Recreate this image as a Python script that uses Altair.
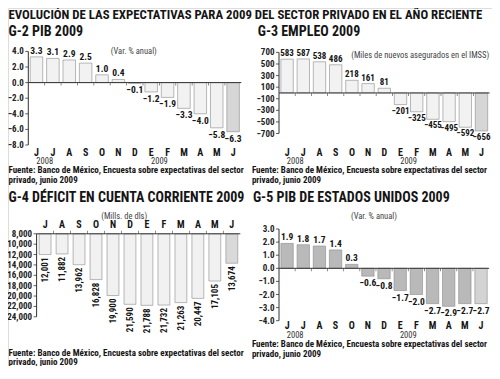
import altair as alt
import pandas as pd

FONT = "'Roboto Condensed', 'Open Sans Condensed', sans-serif"
INK = "#151515"
AX = "#333333"

TITLE = "EVOLUCIÓN DE LAS EXPECTATIVAS PARA 2009 DEL SECTOR PRIVADO EN EL AÑO RECIENTE"
SOURCE = ["Fuente: Banco de México, Encuesta sobre expectativas del sector", "privado, junio 2009"]

MONTHS13 = ["J", "J", "A", "S", "O", "N", "D", "E", "F", "M", "A", "M", "J"]
MONTHS12 = ["J", "A", "S", "O", "N", "D", "E", "F", "M", "A", "M", "J"]
YEARS = ["2008", "2009"]
YEAR_AT = [0, 7]  # year label centred between this month and the next

PIB_MX = [3.3, 3.1, 2.9, 2.5, 1.0, 0.4, -0.1, -1.2, -1.9, -3.3, -4.0, -5.8, -6.3]
EMPLEO = [583, 587, 538, 486, 218, 161, 81, -201, -325, -455, -495, -592, -656]
DEFICIT = [12001, 11882, 13962, 16828, 19900, 21590, 21788, 21732, 21263, 20447, 17105, 13674]
PIB_US = [1.9, 1.8, 1.7, 1.4, 0.3, -0.6, -0.8, -1.7, -2.0, -2.7, -2.9, -2.7, -2.7]

TICKS_MX = [4, 2, 0, -2, -4, -6, -8]
TICKS_EMP = [700, 500, 300, 100, -100, -300, -500, -700]
TICKS_DEF = [8000, 10000, 12000, 14000, 16000, 18000, 20000, 22000, 24000]
TICKS_US = [3, 2, 1, 0, -1, -2, -3, -4]

# ---- layout helpers (page layout of the original, scaled to the canvas) ----
W_CHART, H_CHART = 484, 358
KX, KY, Y0 = 0.968, 0.965, 3


def PX(x):
    return round(x * KX, 1)


def PY(y):
    return round((y - Y0) * KY, 1)


def text_at(txt, x, y, size, weight="bold", color=INK, align="left", baseline="middle"):
    return alt.Chart(pd.DataFrame({"k": [0]})).mark_text(
        text=txt, align=align, baseline=baseline, font=FONT, fontSize=size,
        fontWeight=weight, color=color, lineHeight=round(10 * KY, 1)
    ).encode(x=alt.value(PX(x)), y=alt.value(PY(y)))


def y_axis_layers(yscale, lo, hi, ticks, fmt, ax_x):
    ends = pd.DataFrame({"lo": [lo], "hi": [hi]})
    line = alt.Chart(ends).mark_rule(color=AX, strokeWidth=1).encode(
        x=alt.value(PX(ax_x)),
        y=alt.Y("lo:Q", scale=yscale, axis=None), y2="hi:Q")
    tdf = pd.DataFrame({"t": ticks})
    tks = alt.Chart(tdf).mark_rule(color=AX, strokeWidth=0.8).encode(
        x=alt.value(PX(ax_x) - 3), x2=alt.value(PX(ax_x)),
        y=alt.Y("t:Q", scale=yscale, axis=None))
    lab = alt.Chart(tdf).mark_text(
        align="right", baseline="middle", font=FONT, fontSize=9, fontWeight="bold",
        color="#222").encode(
        x=alt.value(PX(ax_x) - 4.5),
        y=alt.Y("t:Q", scale=yscale, axis=None),
        text=alt.Text("t:Q", format=fmt))
    return [line, tks, lab]


def panel(values, months, domain, ytop, ybot, x0, x1, pad, ticks, fmt,
          fill, last_fill, month_y, year_y, lab_size):
    n = len(values)
    step = (PX(x1) - PX(x0)) / n
    df = pd.DataFrame({"i": list(range(n)), "v": values, "m": months})
    xs = alt.Scale(domain=list(range(n)), range=[PX(x0), PX(x1)],
                   paddingInner=pad, paddingOuter=pad / 2)
    ys = alt.Scale(domain=domain, range=[PY(ybot), PY(ytop)], nice=False, zero=False)
    x = alt.X("i:O", scale=xs, axis=None)
    y = alt.Y("v:Q", scale=ys, axis=None)

    bars = alt.Chart(df).mark_bar(stroke="#8a8a8a", strokeWidth=0.6).encode(
        x=x, y=y, y2=alt.datum(0),
        fill=alt.condition(alt.datum.i == n - 1, alt.value(last_fill), alt.value(fill)),
    )
    pos = alt.Chart(df).transform_filter("datum.v >= 0").mark_text(
        baseline="bottom", dy=-1, font=FONT, fontSize=lab_size, fontWeight="bold", color=INK
    ).encode(x=x, y=y, text=alt.Text("v:Q", format=fmt))
    neg = alt.Chart(df).transform_filter("datum.v < 0").mark_text(
        baseline="top", dy=2, font=FONT, fontSize=lab_size, fontWeight="bold", color=INK
    ).encode(x=x, y=y, text=alt.Text("v:Q", format=fmt))

    zdf = pd.DataFrame({"v": [0]})
    zero = alt.Chart(zdf).mark_rule(color=AX, strokeWidth=1).encode(
        x=alt.value(PX(x0)), x2=alt.value(PX(x1)), y=y)
    tick_df = pd.DataFrame({"i": list(range(1, n)), "v": [0] * (n - 1)})
    zticks = alt.Chart(tick_df).mark_tick(
        orient="vertical", size=3, thickness=0.8, color=AX,
        xOffset=-step / 2, yOffset=1.5
    ).encode(x=x, y=y)

    mlab = alt.Chart(df).mark_text(
        baseline="middle", font=FONT, fontSize=10, fontWeight="bold", color=INK
    ).encode(x=x, y=alt.value(PY(month_y)), text="m:N")
    yr_df = pd.DataFrame({"i": YEAR_AT, "t": YEARS})
    years = alt.Chart(yr_df).mark_text(
        dx=step / 2, baseline="middle", font=FONT, fontSize=8.5, color="#333"
    ).encode(x=x, y=alt.value(PY(year_y)), text="t:N")

    return [bars, zero, zticks, pos, neg, mlab, years] + \
        y_axis_layers(ys, domain[0], domain[1], ticks, fmt, x0)


def deficit_panel(x0, x1, ytop, ybot, month_y):
    n = len(DEFICIT)
    step = (PX(x1) - PX(x0)) / n
    df = pd.DataFrame({"i": list(range(n)), "v": DEFICIT, "m": MONTHS12})
    xs = alt.Scale(domain=list(range(n)), range=[PX(x0), PX(x1)],
                   paddingInner=0.3, paddingOuter=0.15)
    ys = alt.Scale(domain=[8000, 24000], range=[PY(ytop), PY(ybot)], nice=False, zero=False)
    x = alt.X("i:O", scale=xs, axis=None)
    y = alt.Y("v:Q", scale=ys, axis=None)
    bars = alt.Chart(df).mark_bar(stroke="#8a8a8a", strokeWidth=0.6).encode(
        x=x, y=y, y2=alt.datum(8000),
        fill=alt.condition(alt.datum.i == n - 1, alt.value("#d9d9d9"), alt.value("#f1f1f1")),
    )
    labels = alt.Chart(df).mark_text(
        angle=270, align="right", baseline="middle", dx=-3,
        font=FONT, fontSize=9, fontWeight="bold", color=INK
    ).encode(x=x, y=y, text=alt.Text("v:Q", format=",d"))
    top_df = pd.DataFrame({"v": [8000]})
    top = alt.Chart(top_df).mark_rule(color=AX, strokeWidth=1).encode(
        x=alt.value(PX(x0)), x2=alt.value(PX(x1)), y=y)
    tick_df = pd.DataFrame({"i": list(range(1, n)), "v": [8000] * (n - 1)})
    tticks = alt.Chart(tick_df).mark_tick(
        orient="vertical", size=3, thickness=0.8, color=AX,
        xOffset=-step / 2, yOffset=-1.5
    ).encode(x=x, y=y)
    mlab = alt.Chart(df).mark_text(
        baseline="middle", font=FONT, fontSize=10, fontWeight="bold", color=INK
    ).encode(x=x, y=alt.value(PY(month_y)), text="m:N")
    return [bars, labels, top, tticks, mlab] + \
        y_axis_layers(ys, 8000, 24000, TICKS_DEF, ",d", x0)


layers = []
# main title
layers.append(text_at(TITLE, 0.5, 10, 12.8))

# G-2
layers.append(text_at("G-2 PIB 2009", 0.5, 28, 14))
layers += panel(PIB_MX, MONTHS13, [-8, 4], 48, 145, 21, 241, 0.235, TICKS_MX, ".1f",
                "#f2f2f2", "#d6d6d6", 153, 162, 9.5)
layers.append(text_at("(Var. % anual)", 130, 48, 8.5, "normal", "#444", "center"))
layers.append(text_at(SOURCE, 0.5, 167, 9, baseline="top"))

# G-3
layers.append(text_at("G-3 EMPLEO 2009", 258, 28, 14))
layers += panel(EMPLEO, MONTHS13, [-700, 700], 49, 133, 280, 497.5, 0.235, TICKS_EMP, "d",
                "#f2f2f2", "#d6d6d6", 153, 162, 9)
layers.append(text_at("(Miles de nuevos asegurados en el IMSS)", 497, 52, 8.5,
                      "normal", "#444", "right"))
layers.append(text_at(SOURCE, 252, 167, 9, baseline="top"))

# G-4
layers.append(text_at("G-4 DÉFICIT EN CUENTA CORRIENTE 2009", 0.5, 200, 14))
layers.append(text_at("(Mills. de dls)", 120, 218, 8.5, "normal", "#444", "center"))
layers += deficit_panel(29.5, 240, 237, 323, 228)
layers.append(text_at(SOURCE, 0.5, 356, 9, baseline="top"))

# G-5
layers.append(text_at("G-5 PIB DE ESTADOS UNIDOS 2009", 253, 200, 14))
layers.append(text_at("(Var. % anual)", 378, 218, 8.5, "normal", "#444", "center"))
layers += panel(PIB_US, MONTHS13, [-4, 3], 232, 327, 280, 497, 0.235, TICKS_US, ".1f",
                "#b9b9b9", "#d3d3d3", 333, 342, 9.5)
layers.append(text_at(SOURCE, 252, 347, 9, baseline="top"))

chart = alt.layer(*layers).resolve_scale(x="independent", y="independent").properties(
    width=W_CHART, height=H_CHART, padding=0,
    autosize=alt.AutoSizeParams(type="none"),
).configure_view(stroke=None).configure(background="white")

chart.save("out.html", embed_options={"renderer": "svg", "actions": False})
